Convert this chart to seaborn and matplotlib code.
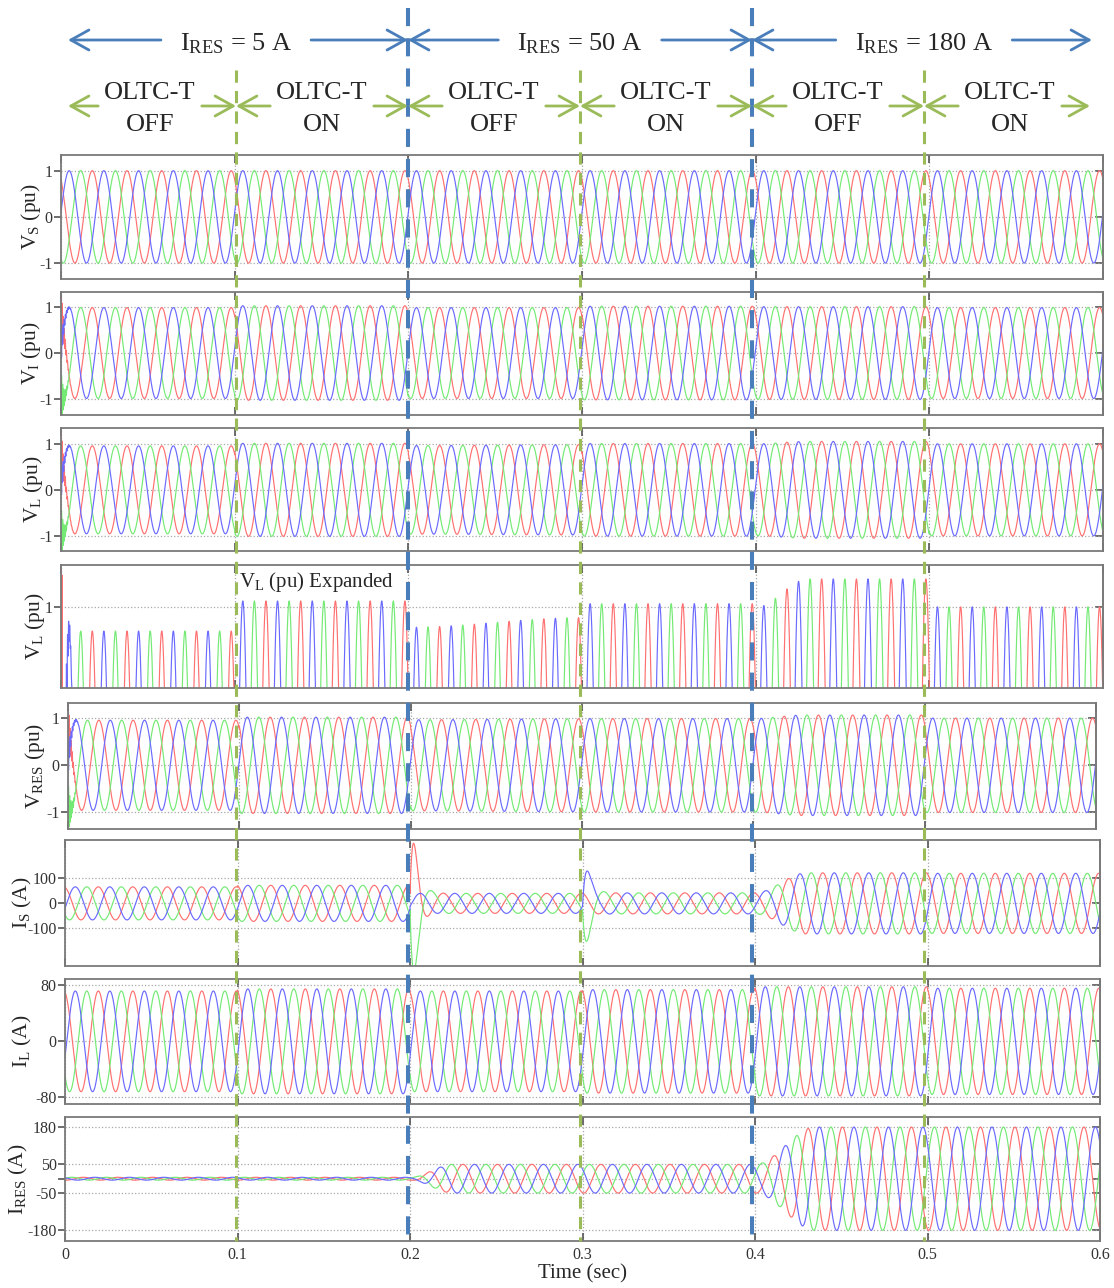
import numpy as np
import pandas as pd
import matplotlib
matplotlib.use("Agg")
import matplotlib.pyplot as plt
from matplotlib.patches import ArrowStyle
from matplotlib.transforms import blended_transform_factory
import seaborn as sns

# ---------------- scenario timeline ----------------
SEGMENT_EDGES = [0.0, 0.1, 0.2, 0.3, 0.4, 0.5, 0.6]
IRES_BOUNDS = [0.0, 0.2, 0.4, 0.6]
IRES_LABELS = ["5 A", "50 A", "180 A"]
OLTC_LABELS = ["OFF", "ON", "OFF", "ON", "OFF", "ON"]
X_TICKS = [0.0, 0.1, 0.2, 0.3, 0.4, 0.5, 0.6]
X_TICK_LABELS = ["0", "0.1", "0.2", "0.3", "0.4", "0.5", "0.6"]
FREQ_HZ = 50.0

# ---------------- per-segment peak amplitudes ----------------
# value at the start of each segment, settled value, and settling time (s)
VS_START = [1.0, 1.0, 1.0, 1.0, 1.0, 1.0]
VS_END = [1.0, 1.0, 1.0, 1.0, 1.0, 1.0]
VS_RAMP = [0, 0, 0, 0, 0, 0]

VI_START = [0.99, 1.03, 0.99, 1.02, 1.01, 0.99]
VI_END = [0.99, 1.03, 0.99, 1.02, 1.01, 0.99]
VI_RAMP = [0, 0, 0, 0, 0, 0]

VL_START = [0.956, 1.012, 0.963, 1.007, 1.0, 1.001]
VL_END = [0.956, 1.012, 0.981, 1.007, 1.053, 1.001]
VL_RAMP = [0, 0, 0.1, 0, 0.03, 0]

VRES_START = [0.955, 1.02, 0.965, 0.99, 0.99, 1.0]
VRES_END = [0.955, 1.02, 0.985, 0.99, 1.065, 1.0]
VRES_RAMP = [0, 0, 0.1, 0, 0.03, 0]

IS_START = [66, 72, 40, 42, 42, 120]
IS_END = [66, 72, 40, 42, 122, 120]
IS_RAMP = [0, 0, 0, 0, 0.03, 0]

IL_START = [72, 75, 72, 74, 78, 76]
IL_END = [72, 75, 72, 74, 78, 76]
IL_RAMP = [0, 0, 0, 0, 0, 0]

IRES_START = [5, 5, 5, 50, 50, 180]
IRES_END = [5, 5, 50, 50, 180, 180]
IRES_RAMP = [0, 0, 0.025, 0, 0.035, 0]

# phase angle of phase "a" at t = 0 (rad)
PHASE_V = 0.1
PHASE_IS = -0.3
PHASE_IL = -0.31
PHASE_IRES = 2.4

# energisation ripple on the load-side voltages (per phase peak)
STARTUP_PHASE = ["a", "b", "c"]
STARTUP_PEAK = [0.35, -0.55, 0.6]
STARTUP_TAU = 0.0016
STARTUP_FREQ = 1600.0

# switching current surges in the source current
IS_PULSE_TIME = [0.2, 0.2, 0.3, 0.3]
IS_PULSE_PHASE = ["c", "b", "a", "b"]
IS_PULSE_PEAK = [215, -230, 110, -110]
PULSE_TAU = 0.003
PULSE_FREQ = 60.0

PALETTE = {"a": "#6a6aff", "b": "#74ea74", "c": "#ff7070"}
BLUE_MARK = "#4a7ebb"
GREEN_MARK = "#9bbb59"

# ---------------- waveform construction ----------------
dt = 2e-5
t = np.arange(0.0, 0.6 + dt / 2, dt)
omega = 2 * np.pi * FREQ_HZ


def envelope(start, end, ramp):
    env = np.zeros_like(t)
    for k in range(len(SEGMENT_EDGES) - 1):
        t0, t1 = SEGMENT_EDGES[k], SEGMENT_EDGES[k + 1]
        m = (t >= t0) & ((t < t1) if k < len(SEGMENT_EDGES) - 2 else (t <= t1))
        if ramp[k] > 0:
            s = np.clip((t[m] - t0) / ramp[k], 0, 1)
            s = s * s * (3 - 2 * s)
        else:
            s = 1.0
        env[m] = start[k] + (end[k] - start[k]) * s
    return env


def three_phase(env, phi):
    return {
        "a": env * np.sin(omega * t + phi),
        "b": env * np.sin(omega * t + phi - 2 * np.pi / 3),
        "c": env * np.sin(omega * t + phi + 2 * np.pi / 3),
    }


def add_startup(sig):
    ring = np.exp(-t / STARTUP_TAU) * np.cos(2 * np.pi * STARTUP_FREQ * t)
    for ph, pk in zip(STARTUP_PHASE, STARTUP_PEAK):
        sig[ph] = sig[ph] + pk * ring
    return sig


def add_pulses(sig):
    xs = np.linspace(0, 0.05, 5001)
    gmax = (np.exp(-xs / PULSE_TAU) * np.sin(2 * np.pi * PULSE_FREQ * xs)).max()
    for t0, ph, pk in zip(IS_PULSE_TIME, IS_PULSE_PHASE, IS_PULSE_PEAK):
        x = np.clip(t - t0, 0, None)
        shape = np.where(t >= t0, np.exp(-x / PULSE_TAU)
                         * np.sin(2 * np.pi * PULSE_FREQ * x), 0.0) / gmax
        sig[ph] = sig[ph] + pk * shape
    return sig


v_s = three_phase(envelope(VS_START, VS_END, VS_RAMP), PHASE_V)
v_i = add_startup(three_phase(envelope(VI_START, VI_END, VI_RAMP), PHASE_V))
v_l = add_startup(three_phase(envelope(VL_START, VL_END, VL_RAMP), PHASE_V))
v_res = add_startup(three_phase(envelope(VRES_START, VRES_END, VRES_RAMP), PHASE_V))
i_s = add_pulses(three_phase(envelope(IS_START, IS_END, IS_RAMP), PHASE_IS))
i_l = three_phase(envelope(IL_START, IL_END, IL_RAMP), PHASE_IL)
i_res = three_phase(envelope(IRES_START, IRES_END, IRES_RAMP), PHASE_IRES)

# ---------------- styling ----------------
sns.set_style("white")
plt.rcParams["font.family"] = ["Liberation Serif", "DejaVu Serif"]
plt.rcParams["mathtext.fontset"] = "custom"
plt.rcParams["mathtext.rm"] = "Liberation Serif"
plt.rcParams["mathtext.it"] = "Liberation Serif:italic"
plt.rcParams["mathtext.bf"] = "Liberation Serif:bold"
plt.rcParams["axes.unicode_minus"] = False

W, H = 1114, 1288
fig = plt.figure(figsize=(W / 100, H / 100), dpi=100)
fig.patch.set_facecolor("white")


def px_axes(left, top, right, bottom):
    return fig.add_axes([left / W, 1 - bottom / H, (right - left) / W, (bottom - top) / H])


SPINE = "#7a7a7a"
TICK = "#555555"

panels = [
    dict(sig=v_s, box=(61, 155, 1103, 279), ylim=(-1.345, 1.34), yt=[-1, 0, 1],
         ytl=["-1", "0", "1"], label=r"V$_\mathrm{S}$ (pu)", lx=31),
    dict(sig=v_i, box=(61, 292, 1103, 415), ylim=(-1.35, 1.33), yt=[-1, 0, 1],
         ytl=["-1", "0", "1"], label=r"V$_\mathrm{I}$ (pu)", lx=31),
    dict(sig=v_l, box=(61, 428, 1103, 551), ylim=(-1.33, 1.345), yt=[-1, 0, 1],
         ytl=["-1", "0", "1"], label=r"V$_\mathrm{L}$ (pu)", lx=33),
    dict(sig=v_l, box=(61, 565, 1103, 688), ylim=(0.85, 1.079), yt=[1],
         ytl=["1"], label=r"V$_\mathrm{L}$ (pu)", lx=35),
    dict(sig=v_res, box=(68, 703, 1096, 829), ylim=(-1.35, 1.32), yt=[-1, 0, 1],
         ytl=["-1", "0", "1"], label=r"V$_\mathrm{RES}$ (pu)", lx=35),
    dict(sig=i_s, box=(65, 840, 1100, 966), ylim=(-250, 253), yt=[-100, 0, 100],
         ytl=["-100", "0", "100"], label=r"I$_\mathrm{S}$ (A)", lx=22),
    dict(sig=i_l, box=(65, 979, 1100, 1104), ylim=(-89.6, 89.2), yt=[-80, 0, 80],
         ytl=["-80", "0", "80"], label=r"I$_\mathrm{L}$ (A)", lx=22),
    dict(sig=i_res, box=(65, 1117, 1100, 1241), ylim=(-217, 215), yt=[-180, -50, 0, 50, 180],
         ytl=["-180", "-50", "", "50", "180"], label=r"I$_\mathrm{RES}$ (A)", lx=18),
]

axes = []
for i, p in enumerate(panels):
    ax = px_axes(*p["box"])
    sig = p["sig"]
    df = pd.DataFrame({
        "t": np.tile(t, 3),
        "v": np.concatenate([sig["c"], sig["b"], sig["a"]]),
        "phase": np.repeat(["c", "b", "a"], len(t)),
    })
    sns.lineplot(data=df, x="t", y="v", hue="phase", hue_order=["c", "b", "a"],
                 palette=PALETTE, estimator=None, errorbar=None, legend=False,
                 sort=False, lw=0.85, ax=ax)
    ax.set_xlim(0, 0.6)
    ax.set_ylim(*p["ylim"])
    ax.set_xticks(X_TICKS)
    ax.set_yticks(p["yt"])
    ax.set_yticklabels(p["ytl"])
    ax.set_xlabel("")
    ax.set_ylabel("")
    ax.grid(True, ls=":", color="#a8a8a8", lw=0.9)
    for s in ax.spines.values():
        s.set_color(SPINE)
        s.set_linewidth(1.3)
    ax.tick_params(axis="x", direction="in", top=True, bottom=True, length=6,
                   width=1.2, color=TICK, labelbottom=False)
    ax.tick_params(axis="y", direction="out", left=True, right=False, length=5,
                   width=1.2, color=TICK, labelsize=11.5, labelcolor="#333333", pad=1)
    sec = ax.secondary_yaxis("right")
    sec.set_yticks(p["yt"])
    sec.tick_params(direction="in", length=6, width=1.2, color=TICK, labelright=False)
    sec.spines["right"].set_color(SPINE)
    sec.spines["right"].set_linewidth(1.3)

    l, tp, r, b = p["box"]
    fig.text(p["lx"] / W, 1 - (tp + b) / 2 / H, p["label"], rotation=90,
             ha="center", va="center", fontsize=15.5)
    axes.append(ax)

# expanded-view caption
ax_exp = axes[3]
ax_exp.text(SEGMENT_EDGES[1] + 0.0025, 0.864, r"V$_\mathrm{L}$ (pu) Expanded",
            transform=blended_transform_factory(ax_exp.transData, ax_exp.transAxes),
            ha="left", va="center", fontsize=15,
            bbox=dict(fc="white", ec="none", pad=1))

# bottom axis labels
ax_b = axes[-1]
ax_b.tick_params(axis="x", labelbottom=True, labelsize=11.5, labelcolor="#333333", pad=4)
ax_b.set_xticklabels(X_TICK_LABELS)
ax_b.set_xlabel("Time (sec)", fontsize=15, labelpad=1)

# ---------------- event markers and interval annotations ----------------
ov = fig.add_axes([64 / W, 0, (1096 - 64) / W, 1])
ov.set_xlim(0, 0.6)
ov.set_ylim(H, 0)
ov.axis("off")
ov.patch.set_alpha(0)

inner = SEGMENT_EDGES[1:-1]
blue_x = [x for x in inner if x in IRES_BOUNDS]
green_x = [x for x in inner if x not in IRES_BOUNDS]
ov.vlines(blue_x, 8, 1241, colors=BLUE_MARK, lw=2.9, linestyles=(0, (4.5, 3.0)))
ov.vlines(green_x, 70, 1241, colors=GREEN_MARK, lw=2.2, linestyles=(0, (4.0, 2.7)))

fig.canvas.draw()
renderer = fig.canvas.get_renderer()
inv = ov.transData.inverted()


def x_extent(texts):
    xs = []
    for tx in texts:
        bb = tx.get_window_extent(renderer)
        xs += [inv.transform((bb.x0, bb.y0))[0], inv.transform((bb.x1, bb.y0))[0]]
    return min(xs), max(xs)


def arrow(x_tail, x_head, y, color, lw):
    ov.annotate("", xy=(x_head, y), xytext=(x_tail, y),
                arrowprops=dict(arrowstyle=ArrowStyle("->", head_length=1.3, head_width=0.72),
                                color=color, lw=lw, shrinkA=0, shrinkB=0, mutation_scale=10))


px_per_unit = (1096 - 64) / 0.6

for k, lab in enumerate(IRES_LABELS):
    x0, x1 = IRES_BOUNDS[k], IRES_BOUNDS[k + 1]
    tx = ov.text((x0 + x1) / 2, 44, r"I$_\mathrm{RES}$ = " + lab, ha="center",
                 va="center", fontsize=19)
    fig.canvas.draw()
    a, b = x_extent([tx])
    gap = 19 / px_per_unit
    tip = 4 / px_per_unit
    arrow(a - gap, x0 + (tip if k == 0 else 0), 40, BLUE_MARK, 2.0)
    arrow(b + gap, x1 - (tip if k == len(IRES_LABELS) - 1 else 0), 40, BLUE_MARK, 2.0)

for k, lab in enumerate(OLTC_LABELS):
    x0, x1 = SEGMENT_EDGES[k], SEGMENT_EDGES[k + 1]
    xm = (x0 + x1) / 2
    t1 = ov.text(xm, 93, "OLTC-T", ha="center", va="center", fontsize=19)
    t2 = ov.text(xm, 125, lab, ha="center", va="center", fontsize=19)
    fig.canvas.draw()
    a, b = x_extent([t1, t2])
    gap = 6 / px_per_unit
    tip = 4 / px_per_unit
    arrow(a - gap, x0 + (tip if k == 0 else 0), 106, GREEN_MARK, 2.0)
    arrow(b + gap, x1 - (6 / px_per_unit if k == len(OLTC_LABELS) - 1 else 0), 106, GREEN_MARK, 2.0)

fig.savefig("out.png", dpi=100, facecolor="white")
